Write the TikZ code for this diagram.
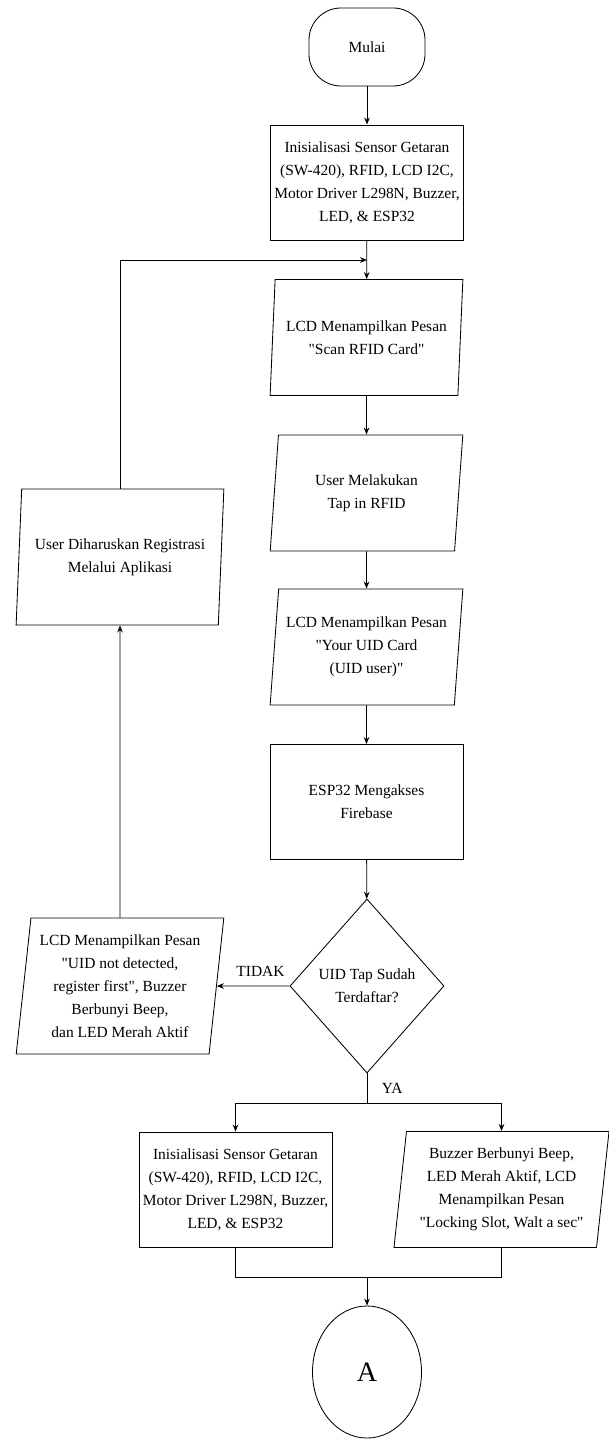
\documentclass[tikz,border=0pt]{standalone}
\usepackage{fontspec}
\setmainfont{Liberation Serif}[Ligatures=TeXOff]
\usetikzlibrary{shapes.geometric,arrows.meta}

\begin{document}
\begin{tikzpicture}[x=0.025cm,y=-0.025cm,>={Stealth[length=5pt,width=4pt]},line width=0.6pt,
		font=\fontsize{11}{16.3}\selectfont,
		terminal/.style={draw,rectangle,rounded corners=0.8cm,minimum width=2.9cm,minimum height=1.95cm,inner sep=0pt},
		proses/.style={draw,rectangle,align=center,minimum width=4.825cm,minimum height=2.875cm,inner sep=0pt},
		io/.style={draw,trapezium,trapezium stretches=true,trapezium left angle=82.6,trapezium right angle=97.4,align=center,minimum width=4.825cm,minimum height=2.9cm,inner sep=0pt},
		cek/.style={draw,diamond,align=center,minimum width=3.85cm,minimum height=4.35cm,inner sep=0pt},
		konektor/.style={draw,ellipse,minimum width=2.725cm,minimum height=3.3cm,inner sep=0pt,font=\fontsize{20}{24}\selectfont}]

		\useasboundingbox (0,0) rectangle (609,1439);

		% alur utama
		\node[terminal] (mulai) at (367,47) {Mulai};
		\node[proses] (init) at (367,182.5) {Inisialisasi Sensor Getaran\\(SW-420), RFID, LCD I2C,\\Motor Driver L298N, Buzzer,\\LED, \& ESP32};
		\node[io] (scan) at (366.5,337.5) {LCD Menampilkan Pesan\\"Scan RFID Card"};
		\node[io] (tap) at (366.5,493) {User Melakukan\\Tap in RFID};
		\node[io] (uid) at (366.5,647) {LCD Menampilkan Pesan\\"Your UID Card\\(UID user)"};
		\node[proses] (firebase) at (366.5,802) {ESP32 Mengakses\\Firebase};
		\node[cek] (cek) at (367,986) {UID Tap Sudah\\Terdaftar?};

		% cabang tidak
		\node[io,minimum width=5.2cm,minimum height=3.4cm] (gagal) at (120,986) {LCD Menampilkan Pesan\\"UID not detected,\\register first", Buzzer\\Berbunyi Beep,\\dan LED Merah Aktif};
		\node[io,minimum width=5.2cm,minimum height=3.4cm] (reg) at (120,557) {User Diharuskan Registrasi\\Melalui Aplikasi};

		% cabang ya
		\node[proses] (initb) at (235.5,1189.5) {Inisialisasi Sensor Getaran\\(SW-420), RFID, LCD I2C,\\Motor Driver L298N, Buzzer,\\LED, \& ESP32};
		\node[io,minimum width=5.375cm] (lock) at (501.5,1189.5) {Buzzer Berbunyi Beep,\\LED Merah Aktif, LCD\\Menampilkan Pesan\\"Locking Slot, Walt a sec"};
		\node[konektor] (A) at (367,1372) {A};

		\coordinate (masuk) at (367,260);
		\coordinate (ya) at (367,1103);
		\coordinate (gabung) at (367,1277);

		\draw[->] (mulai) -- (init);
		\draw[->] (init) -- (scan);
		\draw[->] (scan) -- (tap);
		\draw[->] (tap) -- (uid);
		\draw[->] (uid) -- (firebase);
		\draw[->] (firebase) -- (cek);
		\draw[->] (cek.west) -- (gagal.east) node[pos=0.4,above=3pt] {TIDAK};
		\draw[->] (gagal) -- (reg);
		\draw[->] (reg) |- (masuk);
		\draw (cek) -- (ya) node[midway,right=7pt] {YA};
		\draw[->] (ya) -| (initb);
		\draw[->] (ya) -| (lock);
		\draw (initb) |- (gabung);
		\draw (lock) |- (gabung);
		\draw[->] (gabung) -- (A);
	\end{tikzpicture}
\end{document}
